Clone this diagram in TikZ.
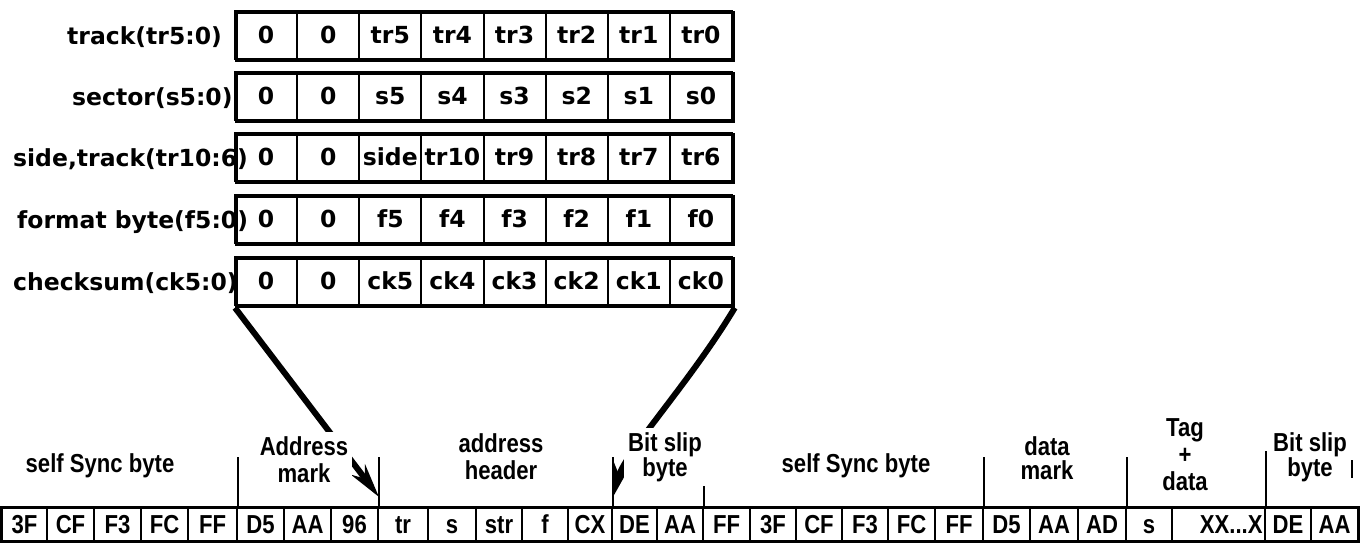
\documentclass[tikz,border=0pt]{standalone}
\usepackage{fontspec}
\usetikzlibrary{arrows.meta}
\newfontfamily\topfont{DejaVu Sans}
\newfontfamily\botfont{Liberation Sans}[FakeStretch=0.85]
\begin{document}
\begin{tikzpicture}[x=1pt,y=-1pt,
  topfnt/.style={font=\topfont\bfseries\fontsize{23.5}{26}\selectfont},
  botfnt/.style={font=\botfont\bfseries\fontsize{26}{#1}\selectfont},
  botfnt/.default=27,
  toplbl/.style={topfnt, anchor=base west, inner sep=0pt},
  topcell/.style={topfnt, draw, line width=2pt, minimum width=62.125pt, minimum height=48pt, text height=17pt, text depth=0pt, inner sep=0pt},
  rowbox/.style={draw, line width=2.8pt, minimum width=497pt, minimum height=48pt, anchor=north west, inner sep=0pt},
  botcell/.style={botfnt, draw, line width=2pt, minimum height=33pt, text height=18.6pt, text depth=0pt, inner sep=0pt},
  botlbl/.style={botfnt=#1, anchor=north, align=center, fill=white, inner sep=4pt},
  botlbl/.default=27,
  tickline/.style={line width=2pt},
  bigarrow/.style={line width=6pt, -{Stealth[length=34pt,width=17pt]}}
]
\useasboundingbox (0,0) rectangle (1364,544);

% top field labels
\foreach \r/\top/\lx/\lbl in {1/11/67/{track(tr5:0)}, 2/72/72/{sector(s5:0)}, 3/133/13/{side,track(tr10:6)}, 4/195/17/{format byte(f5:0)}, 5/257/13/{checksum(ck5:0)}} {
  \node[toplbl] (lbl\r) at (\lx,\top+33) {\lbl};
}

% top rows
\foreach \r/\top/\cells in {1/11/{0,0,tr5,tr4,tr3,tr2,tr1,tr0}, 2/72/{0,0,s5,s4,s3,s2,s1,s0}, 3/133/{0,0,side,tr10,tr9,tr8,tr7,tr6}, 4/195/{0,0,f5,f4,f3,f2,f1,f0}, 5/257/{0,0,ck5,ck4,ck3,ck2,ck1,ck0}} {
  \foreach \t [count=\c] in \cells {
    \node[topcell] (c\r-\c) at ({235+62.125*(\c-0.5)},\top+24) {\t};
  }
  \node[rowbox] (row\r) at (235,\top) {};
}

% bottom row
\foreach \t/\a/\b [count=\c, evaluate=\b as \w using \b-\a] in {3F/2/47, CF/47/94, F3/94/141, FC/141/188, FF/188/237, D5/237/284, AA/284/331, 96/331/378, tr/378/428, s/428/476, str/476/522, f/522/568, CX/568/612, DE/612/657, AA/657/703, FF/703/750, 3F/750/796, CF/796/842, F3/842/888, FC/888/935, FF/935/983, D5/983/1030, AA/1030/1078, AD/1078/1126, s/1126/1172, {\makebox[88pt][r]{XX...X}}/1172/1265, DE/1265/1311, AA/1311/1358} {
  \node[botcell, minimum width=\w pt] (b\c) at ({(\a+\b)/2},524.5) {\t};
}
\draw[line width=2.5pt] (b1.north west) rectangle (b28.south east);

% section ticks
\draw[tickline] (b5.north east) -- ++(0,-50);
\draw[tickline] (b8.north east) -- ++(0,-50);
\draw[tickline] (b13.north east) -- ++(0,-50);
\draw[tickline] (b15.north east) -- ++(0,-21);
\draw[tickline] (b21.north east) -- ++(0,-50);
\draw[tickline] (b24.north east) -- ++(0,-50);
\draw[tickline] (b26.north east) -- ++(0,-56);
\coordinate (rt1) at (1352,460);
\coordinate (rt2) at (1352,478);
\draw[tickline] (rt1) -- (rt2);

% connectors from checksum row to the address header
\draw[bigarrow] (row5.south west) -- ([yshift=10pt]b8.north east);
\draw[bigarrow] (row5.south east) .. controls +(-45,75) and +(12,-45) .. ([yshift=10pt]b13.north east);

% bottom labels (drawn over the connectors)
\node[botlbl] (ss1) at (100,449) {self Sync byte};
\node[botlbl] (am) at (304,432) {Address\\mark};
\node[botlbl] (ah) at (501,429) {address\\header};
\node[botlbl=25] (bs1) at (665,428) {Bit slip\\byte};
\node[botlbl] (ss2) at (856,449) {self Sync byte};
\node[botlbl=24] (dm) at (1047,432) {data\\mark};
\node[botlbl] (tg) at (1185,414) {Tag\\+\\data};
\node[botlbl=25] (bs2) at (1310,428) {Bit slip\\byte};
\end{tikzpicture}
\end{document}
